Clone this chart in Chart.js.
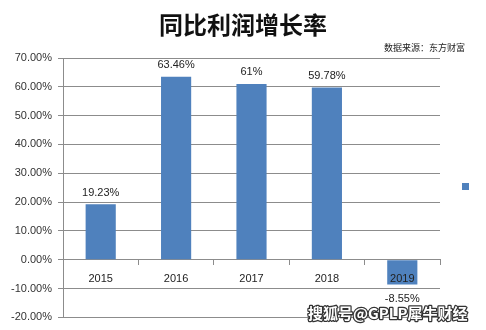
<!DOCTYPE html>
<html>
<head>
<meta charset="utf-8">
<title>同比利润增长率</title>
<script src="https://cdn.jsdelivr.net/npm/chart.js@4/dist/chart.umd.min.js"></script>
<style>
    html, body { margin: 0; padding: 0; background: #fff; }
    #wrap { position: relative; width: 486px; height: 330px; }
</style>
</head>
<body>
<div id="wrap"><canvas id="chart"></canvas></div>
<script>
// Year-on-year profit growth, in percent.
const YEARS = ['2015', '2016', '2017', '2018', '2019'];
const GROWTH = [19.23, 63.46, 61, 59.78, -8.55];
const Y_MIN = -20;
const Y_MAX = 70;
const Y_STEP = 10;

const TITLE = '同比利润增长率';
const SOURCE = '数据来源：东方财富';
const WATERMARK = '搜狐号@GPLP犀牛财经';

const BAR_BLUE = '#4f81bd';
const GRID_GRAY = '#8c8c8c';
const CJK = '"Noto Sans CJK SC", sans-serif';
const LATIN = '"Liberation Sans", Arial, sans-serif';

// Title, source note, value labels, legend swatch and the watermark.
const decorations = {
    id: 'decorations',
    afterDraw(chart) {
        const ctx = chart.ctx;
        ctx.save();

        ctx.fillStyle = '#111';
        ctx.textAlign = 'center';
        ctx.textBaseline = 'middle';
        ctx.font = `bold 24px ${CJK}`;
        ctx.fillText(TITLE, 243, 25);

        ctx.font = `9px ${CJK}`;
        ctx.textAlign = 'left';
        ctx.fillStyle = '#222';
        ctx.fillText(SOURCE, 384, 48);

        // value above positive bars, below negative ones
        ctx.font = `11px ${LATIN}`;
        ctx.textAlign = 'center';
        ctx.fillStyle = '#222';
        const meta = chart.getDatasetMeta(0);
        meta.data.forEach((bar, i) => {
            const v = GROWTH[i];
            const text = String(v) + '%';
            if (v >= 0) {
                ctx.textBaseline = 'bottom';
                ctx.fillText(text, bar.x, bar.y - 6);
            } else {
                ctx.textBaseline = 'top';
                ctx.fillText(text, bar.x, bar.y + 9);
            }
        });

        // series swatch (the series has no name)
        ctx.fillStyle = BAR_BLUE;
        ctx.fillRect(462, 183, 7, 7);

        ctx.font = `bold 15px ${CJK}`;
        ctx.textAlign = 'left';
        ctx.textBaseline = 'middle';
        ctx.lineJoin = 'round';
        ctx.lineWidth = 2.5;
        ctx.strokeStyle = '#333';
        ctx.strokeText(WATERMARK, 308, 313);
        ctx.fillStyle = '#fff';
        ctx.fillText(WATERMARK, 308, 313);

        ctx.restore();
    },
};

new Chart(document.getElementById('chart').getContext('2d'), {
    type: 'bar',
    data: {
        labels: YEARS,
        datasets: [{
            data: GROWTH,
            backgroundColor: BAR_BLUE,
            borderWidth: 0,
            categoryPercentage: 1,
            barPercentage: 0.4,
        }],
    },
    options: {
        responsive: true,
        maintainAspectRatio: false,
        animation: false,
        layout: { padding: { top: 58, right: 46, bottom: 8, left: 0 } },
        plugins: {
            legend: { display: false },
            tooltip: { enabled: false },
        },
        scales: {
            x: {
                position: { y: 0 },
                grid: {
                    offset: true,
                    drawOnChartArea: false,
                    drawTicks: true,
                    tickLength: 5,
                    color: GRID_GRAY,
                },
                border: { color: GRID_GRAY },
                ticks: {
                    z: 1, // year labels sit on top of the negative bar
                    autoSkip: false,
                    color: '#222',
                    font: { family: LATIN, size: 11 },
                    padding: 8,
                    maxRotation: 0,
                },
            },
            y: {
                min: Y_MIN,
                max: Y_MAX,
                afterFit(scale) { scale.width = 63; },
                grid: {
                    color: GRID_GRAY,
                    tickLength: 5,
                },
                border: { color: GRID_GRAY },
                ticks: {
                    stepSize: Y_STEP,
                    color: '#333',
                    font: { family: LATIN, size: 11 },
                    padding: 6,
                    callback: (v) => v.toFixed(2) + '%',
                },
            },
        },
    },
    plugins: [decorations],
});
</script>
</body>
</html>
